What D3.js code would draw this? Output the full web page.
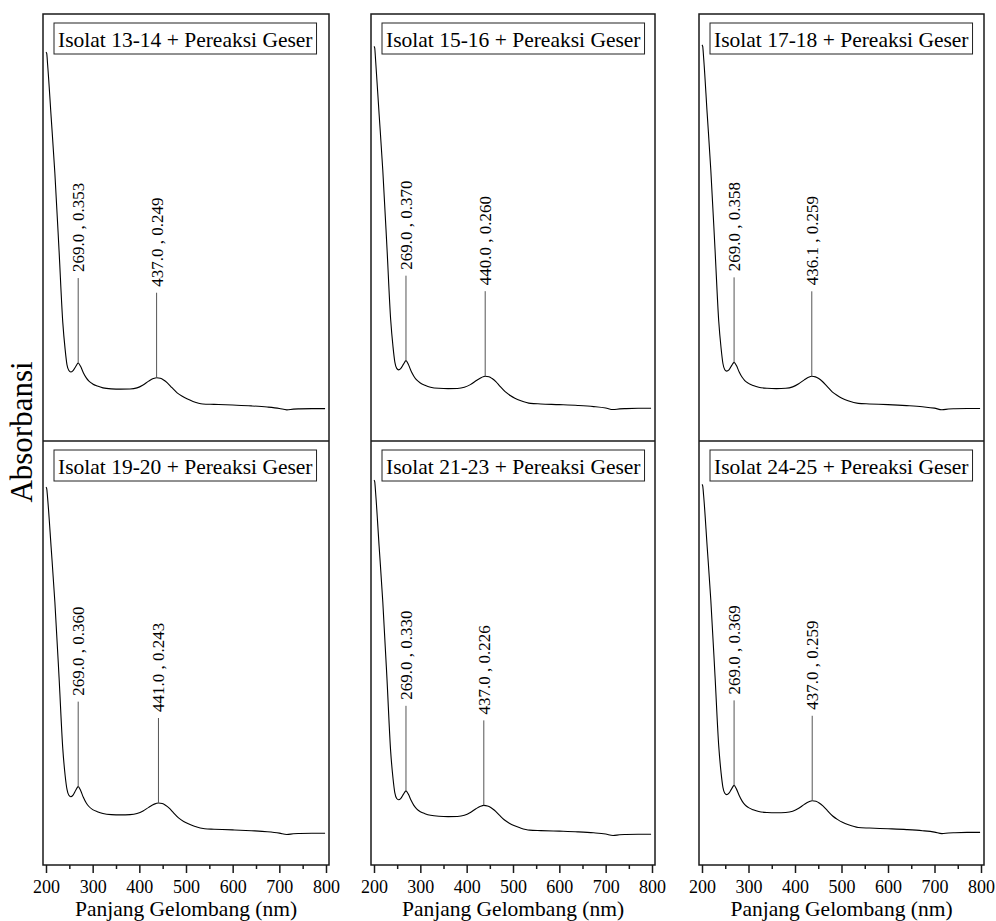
<!DOCTYPE html>
<html>
<head>
<meta charset="utf-8">
<script src="https://cdn.jsdelivr.net/npm/d3@7"></script>
</head>
<body style="margin:0">
<script>
// panel titles, left to right, top row first
var titles = ['Isolat 13-14 + Pereaksi Geser', 'Isolat 15-16 + Pereaksi Geser', 'Isolat 17-18 + Pereaksi Geser',
              'Isolat 19-20 + Pereaksi Geser', 'Isolat 21-23 + Pereaksi Geser', 'Isolat 24-25 + Pereaksi Geser'];

var xTicks = [200, 300, 400, 500, 600, 700, 800];
var xMinor = [250, 350, 450, 550, 650, 750];

// [wavelength nm, absorbance]
var spec1314 = [[200,2.56],[201.5,2.55],[203.5,2.47],[211,2.10],[219,1.70],[228,1.15],[236,0.64],[241,0.45],[245,0.34],[249,0.30],[253,0.29],[258,0.30],[264,0.33],[269,0.353],[274,0.33],[280,0.285],[286,0.25],[292,0.225],[300,0.205],[310,0.19],[322,0.177],[340,0.170],[360,0.168],[380,0.169],[395,0.177],[408,0.198],[420,0.225],[430,0.243],[437,0.249],[445,0.245],[452,0.233],[460,0.213],[470,0.178],[481,0.142],[492,0.117],[502,0.099],[515,0.081],[536,0.063],[560,0.060],[600,0.055],[640,0.049],[674,0.041],[700,0.031],[716,0.021],[730,0.026],[744,0.028],[770,0.030],[798,0.030]];
var spec1516 = [[200,2.60],[201.5,2.59],[203.5,2.50],[211,2.12],[219,1.72],[228,1.17],[236,0.66],[241,0.47],[245,0.36],[249,0.315],[253,0.305],[258,0.315],[264,0.347],[269,0.370],[274,0.345],[280,0.297],[286,0.26],[292,0.233],[300,0.212],[310,0.196],[322,0.182],[340,0.174],[360,0.172],[380,0.173],[395,0.181],[408,0.200],[420,0.227],[432,0.251],[440,0.260],[448,0.256],[455,0.243],[463,0.222],[472,0.188],[483,0.150],[494,0.123],[504,0.104],[517,0.086],[538,0.067],[560,0.063],[600,0.058],[640,0.052],[674,0.044],[700,0.034],[716,0.023],[730,0.028],[744,0.030],[770,0.032],[798,0.032]];
var spec1718 = [[200,2.61],[201.5,2.60],[203.5,2.52],[211,2.13],[219,1.72],[228,1.16],[236,0.65],[241,0.46],[245,0.35],[249,0.306],[253,0.296],[258,0.305],[264,0.337],[269,0.358],[274,0.335],[280,0.29],[286,0.254],[292,0.229],[300,0.209],[310,0.194],[322,0.181],[340,0.174],[360,0.172],[380,0.174],[395,0.184],[408,0.206],[420,0.234],[429,0.252],[436.1,0.259],[444,0.255],[451,0.243],[459,0.222],[469,0.187],[480,0.149],[491,0.123],[501,0.104],[514,0.086],[536,0.067],[560,0.063],[600,0.058],[640,0.051],[674,0.043],[700,0.033],[716,0.022],[730,0.027],[744,0.029],[770,0.031],[798,0.031]];
var spec1920 = [[200,2.50],[201.5,2.49],[203.5,2.42],[211,2.07],[219,1.68],[228,1.14],[236,0.63],[241,0.44],[245,0.34],[249,0.298],[253,0.288],[258,0.300],[264,0.336],[269,0.360],[274,0.334],[280,0.284],[286,0.245],[292,0.218],[300,0.196],[310,0.181],[322,0.168],[340,0.160],[360,0.158],[380,0.160],[395,0.168],[408,0.186],[420,0.212],[432,0.235],[441,0.243],[449,0.239],[456,0.227],[464,0.207],[473,0.174],[484,0.137],[495,0.111],[505,0.094],[518,0.077],[540,0.059],[560,0.056],[600,0.051],[640,0.045],[674,0.038],[700,0.028],[716,0.018],[730,0.023],[744,0.025],[770,0.027],[798,0.027]];
var spec2123 = [[200,2.55],[201.5,2.54],[203.5,2.46],[211,2.08],[219,1.68],[228,1.13],[236,0.61],[241,0.42],[245,0.315],[249,0.275],[253,0.266],[258,0.276],[264,0.308],[269,0.330],[274,0.307],[280,0.262],[286,0.226],[292,0.201],[300,0.181],[310,0.167],[322,0.155],[340,0.148],[360,0.146],[380,0.147],[395,0.155],[408,0.175],[420,0.202],[430,0.220],[437,0.226],[445,0.222],[452,0.211],[460,0.191],[470,0.158],[481,0.123],[492,0.099],[502,0.082],[515,0.066],[536,0.049],[560,0.046],[600,0.042],[640,0.037],[674,0.030],[700,0.021],[716,0.011],[730,0.016],[744,0.018],[770,0.020],[798,0.020]];
var spec2425 = [[200,2.52],[201.5,2.51],[203.5,2.44],[211,2.08],[219,1.69],[228,1.15],[236,0.65],[241,0.46],[245,0.355],[249,0.313],[253,0.303],[258,0.313],[264,0.346],[269,0.369],[274,0.344],[280,0.296],[286,0.258],[292,0.231],[300,0.210],[310,0.195],[322,0.182],[340,0.175],[360,0.173],[380,0.175],[395,0.184],[408,0.205],[420,0.233],[430,0.252],[437,0.259],[445,0.255],[452,0.243],[460,0.222],[470,0.187],[481,0.150],[492,0.124],[502,0.105],[515,0.087],[536,0.068],[560,0.064],[600,0.059],[640,0.053],[674,0.045],[700,0.035],[716,0.024],[730,0.029],[744,0.031],[770,0.033],[798,0.033]];

// labelled peaks [nm, absorbance]
var peaks1314 = [[269.0, 0.353], [437.0, 0.249]];
var peaks1516 = [[269.0, 0.370], [440.0, 0.260]];
var peaks1718 = [[269.0, 0.358], [436.1, 0.259]];
var peaks1920 = [[269.0, 0.360], [441.0, 0.243]];
var peaks2123 = [[269.0, 0.330], [437.0, 0.226]];
var peaks2425 = [[269.0, 0.369], [437.0, 0.259]];

var uvPanels = {

    spectra: [spec1314, spec1516, spec1718, spec1920, spec2123, spec2425],
    peaks: [peaks1314, peaks1516, peaks1718, peaks1920, peaks2123, peaks2425],

    config: {
        w: 996,
        h: 921,
        cols: [[43, 329], [371, 655], [699, 984]],
        rows: [[14, 441], [441, 865]],
        ydom: [-0.2, 2.83],
        stemLen: 85,
        frameColor: '#1a1a1a',
        font: 'Liberation Serif',
    },

    // serif text helper
    label: function(sel, size) {
        return sel.attr('font-family', uvPanels.config.font)
            .style('font-family', "'" + uvPanels.config.font + "'")
            .style('font-size', size + 'px')
            .attr('fill', '#000');
    },

    run: function() {
        var c = uvPanels.config;

        var svg = d3.select('body').append('svg')
            .attr('width', c.w)
            .attr('height', c.h)
            .style('font-family', "'" + c.font + "'");

        for (var i = 0; i < 6; i++) {
            uvPanels.drawPanel(svg, i);
        }

        // frames: one box per column with a divider between rows
        c.cols.forEach(function(col) {
            svg.append('rect')
                .attr('x', col[0]).attr('y', c.rows[0][0])
                .attr('width', col[1] - col[0])
                .attr('height', c.rows[1][1] - c.rows[0][0])
                .attr('fill', 'none')
                .attr('stroke', c.frameColor)
                .attr('stroke-width', 1.5);
            svg.append('line')
                .attr('x1', col[0]).attr('x2', col[1])
                .attr('y1', c.rows[0][1]).attr('y2', c.rows[0][1])
                .attr('stroke', c.frameColor)
                .attr('stroke-width', 1.5);

            var x = d3.scaleLinear().domain([200, 800]).range([col[0] + 3, col[1] - 3]);

            // minor ticks, no labels
            svg.append('g')
                .attr('transform', 'translate(0,' + c.rows[1][1] + ')')
                .call(d3.axisBottom(x).tickValues(xMinor).tickSize(4).tickFormat(''))
                .call(function(g) { g.select('.domain').remove(); })
                .selectAll('line').attr('stroke', c.frameColor).attr('stroke-width', 1.5);

            var ax = svg.append('g')
                .attr('transform', 'translate(0,' + c.rows[1][1] + ')')
                .call(d3.axisBottom(x).tickValues(xTicks).tickSize(8).tickPadding(7).tickFormat(d3.format('d')))
                .attr('font-family', c.font);
            ax.select('.domain').remove();
            ax.selectAll('line').attr('stroke', c.frameColor).attr('stroke-width', 1.5);
            uvPanels.label(ax.selectAll('text'), 18);

            uvPanels.label(svg.append('text'), 21.5)
                .attr('x', (col[0] + col[1]) / 2)
                .attr('y', 916)
                .attr('text-anchor', 'middle')
                .text('Panjang Gelombang (nm)');
        });

        uvPanels.label(svg.append('text'), 31)
            .attr('transform', 'translate(32,432) rotate(-90)')
            .attr('text-anchor', 'middle')
            .text('Absorbansi');
    },

    drawPanel: function(svg, i) {
        var c = uvPanels.config;
        var col = c.cols[i % 3];
        var row = c.rows[Math.floor(i / 3)];

        var x = d3.scaleLinear().domain([200, 800]).range([col[0] + 3, col[1] - 3]);
        var y = d3.scaleLinear().domain(c.ydom).range([row[1], row[0]]);

        var line = d3.line()
            .x(function(d) { return x(d[0]); })
            .y(function(d) { return y(d[1]); })
            .curve(d3.curveMonotoneX);

        svg.append('path')
            .datum(uvPanels.spectra[i])
            .attr('d', line)
            .attr('fill', 'none')
            .attr('stroke', '#000')
            .attr('stroke-width', 1.1);

        // peak stems + rotated labels
        uvPanels.peaks[i].forEach(function(p) {
            var px = x(p[0]), py = y(p[1]);
            svg.append('line')
                .attr('x1', px).attr('x2', px)
                .attr('y1', py).attr('y2', py - c.stemLen)
                .attr('stroke', '#555')
                .attr('stroke-width', 1);
            uvPanels.label(svg.append('text'), 17)
                .attr('transform', 'translate(' + px + ',' + (py - c.stemLen - 6) + ') rotate(-90)')
                .attr('dy', '0.35em')
                .text(p[0].toFixed(1) + ' , ' + p[1].toFixed(3));
        });

        // title box
        var t = uvPanels.label(svg.append('text'), 21.5)
            .attr('x', col[0] + 15)
            .attr('y', row[0] + 33)
            .text(titles[i]);
        var bb = t.node().getBBox();
        svg.insert('rect', 'text')
            .attr('x', bb.x - 4)
            .attr('y', row[0] + 9)
            .attr('width', bb.width + 8)
            .attr('height', 31)
            .attr('fill', '#fff')
            .attr('stroke', '#222')
            .attr('stroke-width', 1);
    },
};

uvPanels.run();
</script>
</body>
</html>
